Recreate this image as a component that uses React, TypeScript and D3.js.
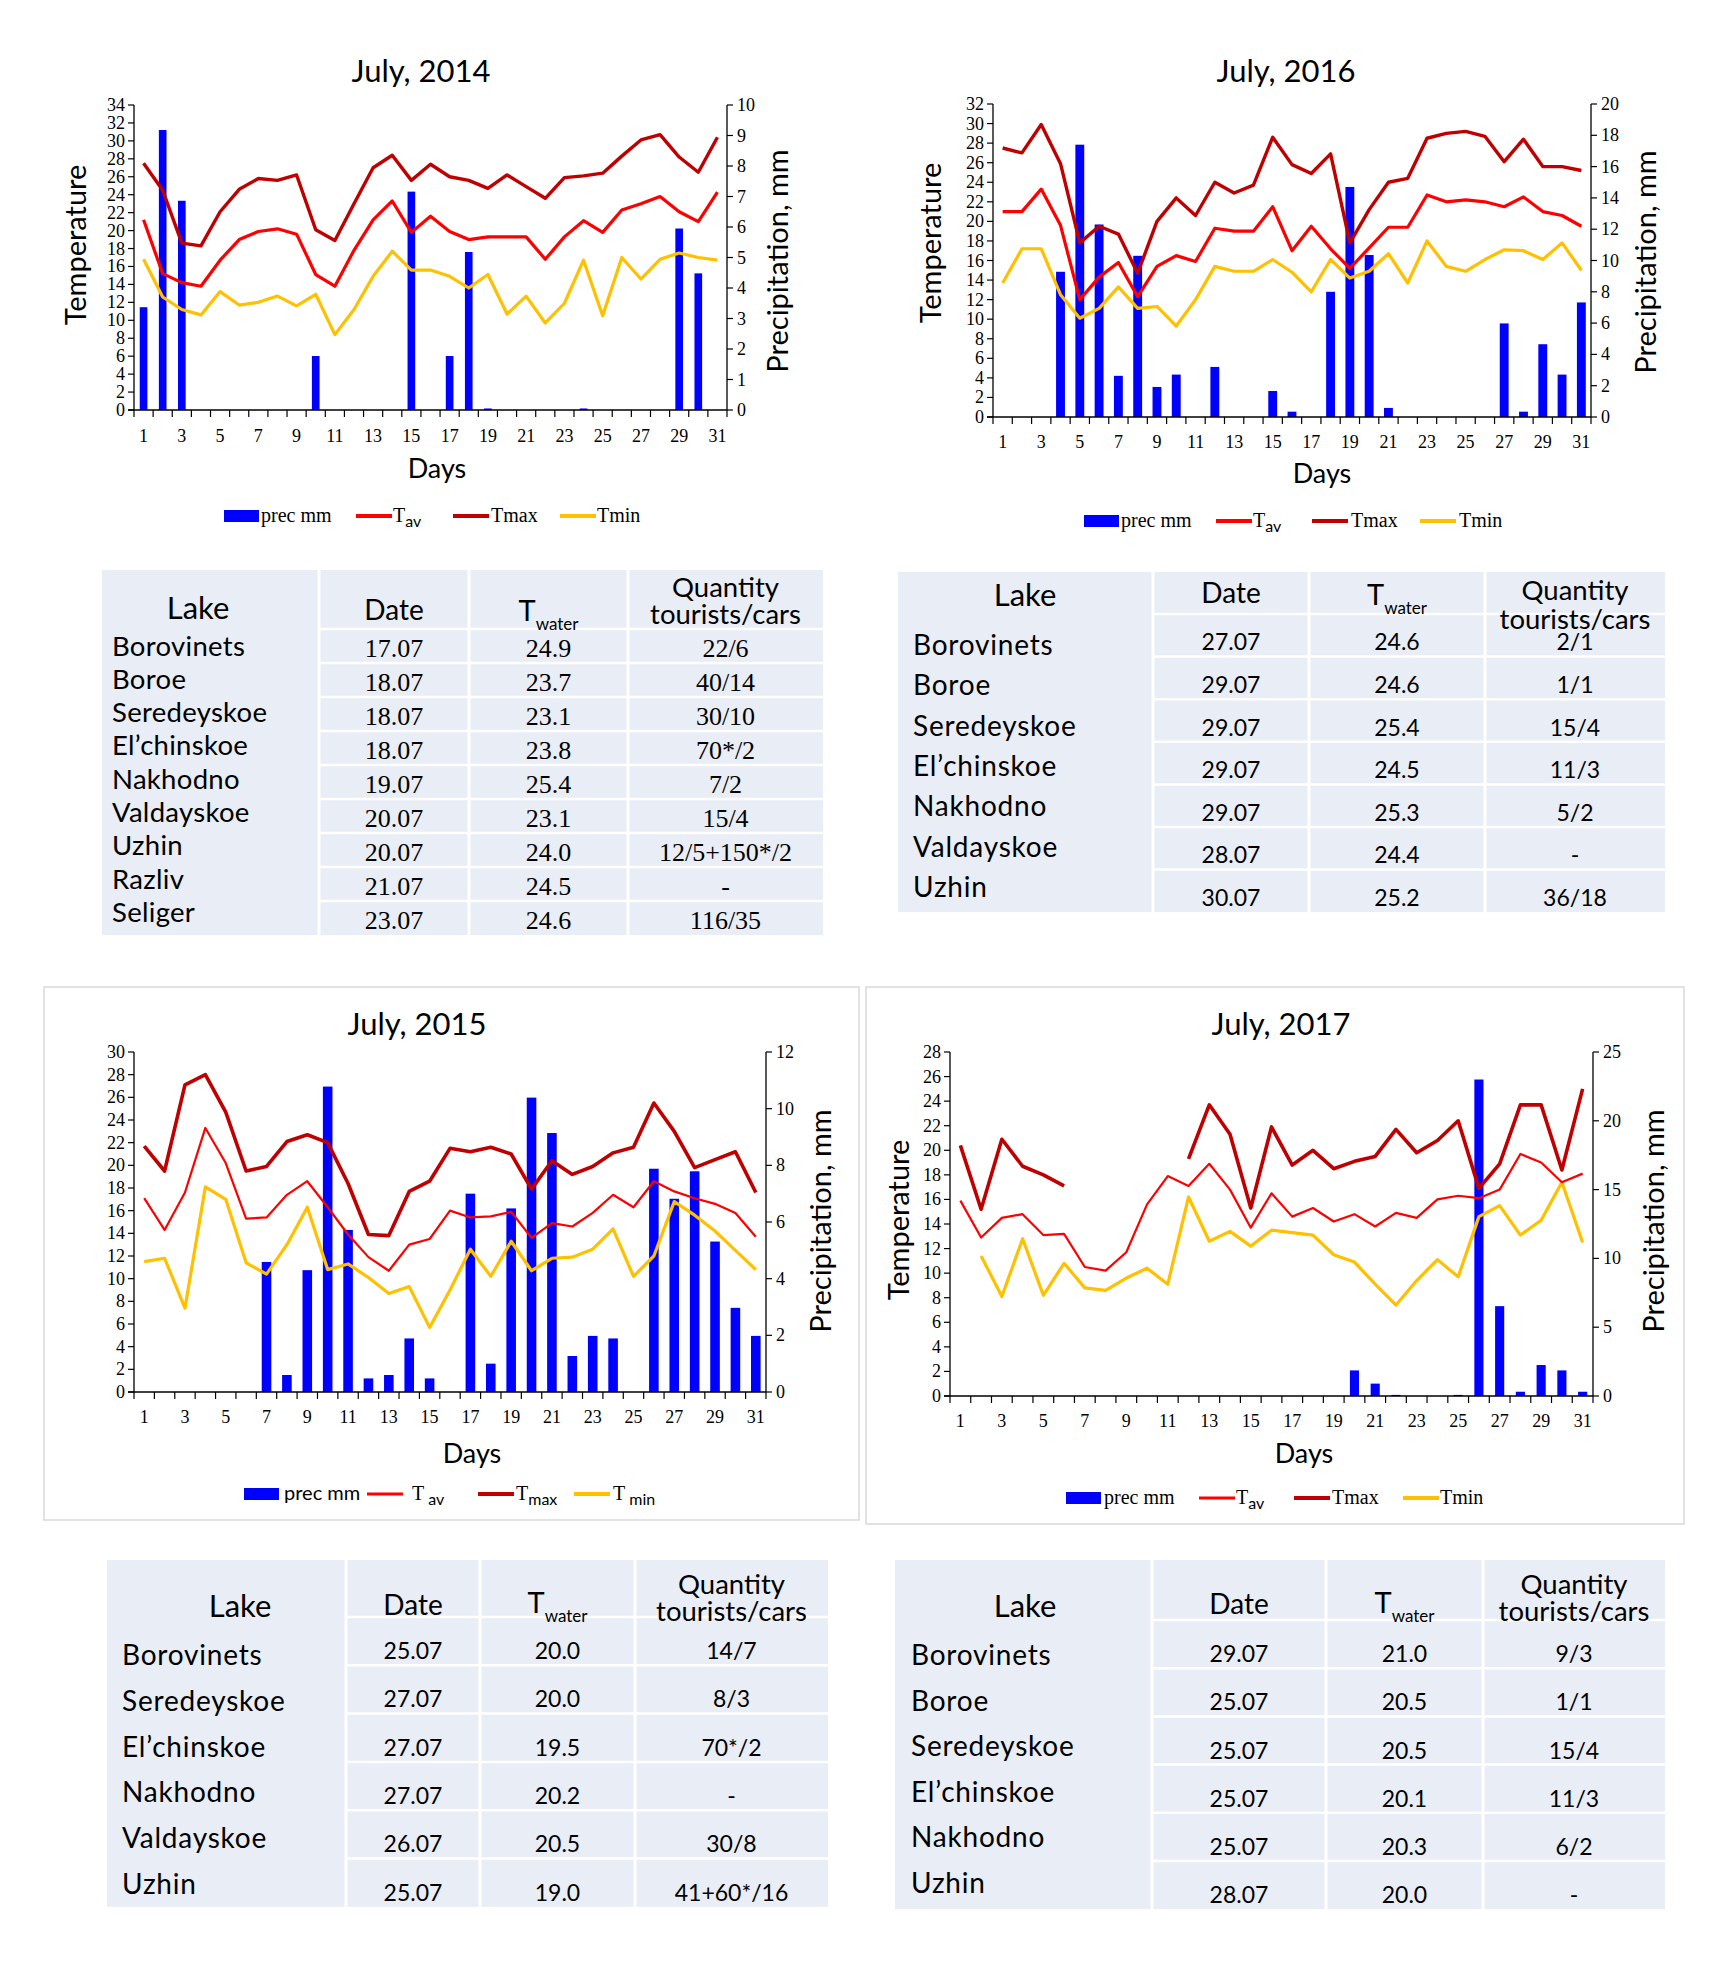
import React from 'react';
import * as d3 from 'd3';

// ---------- data ----------
const days = ['1', '2', '3', '4', '5', '6', '7', '8', '9', '10', '11', '12', '13', '14', '15', '16',
  '17', '18', '19', '20', '21', '22', '23', '24', '25', '26', '27', '28', '29', '30', '31'];

const tmax2014 = [27.5, 24.5, 18.6, 18.3, 22.1, 24.6, 25.8, 25.6, 26.2, 20.1, 18.9, 23.0, 27.0, 28.4, 25.6, 27.4,
  26.0, 25.6, 24.7, 26.2, 24.9, 23.6, 25.9, 26.1, 26.4, 28.3, 30.1, 30.7, 28.2, 26.5, 30.4];
const tav2014 = [21.2, 15.2, 14.2, 13.8, 16.7, 19.0, 19.9, 20.2, 19.6, 15.1, 13.8, 17.8, 21.2, 23.3, 19.8, 21.6,
  19.9, 19.0, 19.3, 19.3, 19.3, 16.8, 19.3, 21.1, 19.8, 22.3, 23.0, 23.8, 22.1, 21.0, 24.3];
const tmin2014 = [16.8, 12.6, 11.2, 10.6, 13.2, 11.7, 12.0, 12.7, 11.6, 12.9, 8.4, 11.2, 14.9, 17.7, 15.6, 15.6,
  14.9, 13.6, 15.1, 10.7, 12.7, 9.7, 11.9, 16.7, 10.5, 17.0, 14.6, 16.8, 17.5, 17.0, 16.7];
const prec2014 = [3.37, 9.18, 6.86, 0, 0, 0, 0, 0, 0, 1.77, 0, 0, 0, 0, 7.16, 0,
  1.77, 5.18, 0.05, 0, 0, 0, 0, 0.05, 0, 0, 0, 0, 5.95, 4.48, 0];

const tmax2016 = [27.5, 27.0, 29.9, 25.9, 17.8, 19.5, 18.7, 14.7, 20.0, 22.4, 20.6, 24.0, 22.9, 23.7, 28.6, 25.8,
  24.9, 26.9, 17.8, 21.2, 24.0, 24.4, 28.5, 29.0, 29.2, 28.7, 26.1, 28.4, 25.6, 25.6, 25.2];
const tav2016 = [21.0, 21.0, 23.3, 19.6, 12.0, 14.3, 15.8, 12.3, 15.4, 16.5, 15.9, 19.3, 19.0, 19.0, 21.5, 17.0,
  19.5, 17.2, 15.2, 17.3, 19.4, 19.4, 22.7, 22.0, 22.2, 22.0, 21.5, 22.5, 21.0, 20.6, 19.5];
const tmin2016 = [13.7, 17.2, 17.2, 12.5, 10.1, 11.1, 13.3, 11.1, 11.3, 9.3, 12.0, 15.4, 14.9, 14.9, 16.1, 14.8,
  12.8, 16.1, 14.2, 14.9, 16.7, 13.7, 18.0, 15.4, 14.9, 16.1, 17.1, 17.0, 16.1, 17.8, 15.0];
const prec2016 = [0, 0, 0, 9.28, 17.4, 12.3, 2.63, 10.3, 1.92, 2.71, 0, 3.2, 0, 0, 1.66, 0.34,
  0, 8.0, 14.7, 10.35, 0.58, 0, 0, 0, 0, 0, 5.98, 0.34, 4.65, 2.71, 7.32];

const tmax2015 = [21.7, 19.5, 27.1, 28.0, 24.7, 19.5, 19.9, 22.1, 22.7, 22.0, 18.4, 13.9, 13.8, 17.7, 18.6, 21.5,
  21.2, 21.6, 21.0, 17.9, 20.4, 19.2, 19.9, 21.1, 21.6, 25.5, 23.0, 19.8, 20.5, 21.2, 17.6];
const tav2015 = [17.1, 14.3, 17.6, 23.3, 20.2, 15.3, 15.4, 17.4, 18.6, 16.3, 13.9, 11.9, 10.7, 13.0, 13.5, 16.0,
  15.4, 15.5, 15.9, 13.6, 14.9, 14.6, 15.8, 17.4, 16.3, 18.6, 17.7, 17.1, 16.6, 15.8, 13.7];
const tmin2015 = [11.5, 11.8, 7.4, 18.1, 17.0, 11.4, 10.4, 13.0, 16.3, 10.8, 11.3, 10.1, 8.7, 9.3, 5.7, 9.0,
  12.6, 10.2, 13.3, 10.7, 11.8, 11.9, 12.6, 14.4, 10.2, 12.0, 16.8, 15.6, 14.2, 12.5, 10.8];
const prec2015 = [0, 0, 0, 0, 0, 0, 4.59, 0.6, 4.3, 10.78, 5.72, 0.48, 0.6, 1.89, 0.48, 0,
  7.0, 1.0, 6.48, 10.39, 9.14, 1.27, 1.98, 1.89, 0, 7.88, 6.82, 7.79, 5.31, 2.97, 1.98];

const tmax2017 = [20.4, 15.2, 20.9, 18.7, 18.0, 17.1, null, null, null, null, null, 19.3, 23.7, 21.3, 15.3, 21.9,
  18.8, 20.0, 18.5, 19.1, 19.5, 21.7, 19.8, 20.8, 22.4, 16.9, 18.9, 23.7, 23.7, 18.4, 25.0];
const tav2017 = [15.9, 12.9, 14.5, 14.8, 13.1, 13.2, 10.5, 10.2, 11.7, 15.6, 17.9, 17.1, 18.9, 16.8, 13.7, 16.5,
  14.6, 15.3, 14.2, 14.8, 13.8, 14.9, 14.5, 16.0, 16.3, 16.1, 16.8, 19.7, 19.0, 17.4, 18.1];
const tmin2017 = [null, 11.4, 8.1, 12.8, 8.2, 10.8, 8.8, 8.6, 9.6, 10.4, 9.1, 16.2, 12.6, 13.4, 12.2, 13.5,
  13.3, 13.1, 11.5, 10.9, 9.1, 7.4, 9.4, 11.1, 9.7, 14.6, 15.5, 13.1, 14.3, 17.4, 12.5];
const prec2017 = [0, 0, 0, 0, 0, 0, 0, 0, 0, 0, 0, 0, 0, 0, 0, 0,
  0, 0, 0, 1.86, 0.9, 0.08, 0, 0, 0.08, 23.0, 6.53, 0.31, 2.25, 1.86, 0.31];

const lakes2014 = ['Borovinets', 'Boroe', 'Seredeyskoe', 'El\u2019chinskoe', 'Nakhodno', 'Valdayskoe', 'Uzhin', 'Razliv', 'Seliger'];
const dates2014 = ['17.07', '18.07', '18.07', '18.07', '19.07', '20.07', '20.07', '21.07', '23.07'];
const twater2014 = ['24.9', '23.7', '23.1', '23.8', '25.4', '23.1', '24.0', '24.5', '24.6'];
const qty2014 = ['22/6', '40/14', '30/10', '70*/2', '7/2', '15/4', '12/5+150*/2', '-', '116/35'];

const lakes2016 = ['Borovinets', 'Boroe', 'Seredeyskoe', 'El\u2019chinskoe', 'Nakhodno', 'Valdayskoe', 'Uzhin'];
const dates2016 = ['27.07', '29.07', '29.07', '29.07', '29.07', '28.07', '30.07'];
const twater2016 = ['24.6', '24.6', '25.4', '24.5', '25.3', '24.4', '25.2'];
const qty2016 = ['2/1', '1/1', '15/4', '11/3', '5/2', '-', '36/18'];

const lakes2015 = ['Borovinets', 'Seredeyskoe', 'El\u2019chinskoe', 'Nakhodno', 'Valdayskoe', 'Uzhin'];
const dates2015 = ['25.07', '27.07', '27.07', '27.07', '26.07', '25.07'];
const twater2015 = ['20.0', '20.0', '19.5', '20.2', '20.5', '19.0'];
const qty2015 = ['14/7', '8/3', '70*/2', '-', '30/8', '41+60*/16'];

const lakes2017 = ['Borovinets', 'Boroe', 'Seredeyskoe', 'El\u2019chinskoe', 'Nakhodno', 'Uzhin'];
const dates2017 = ['29.07', '25.07', '25.07', '25.07', '25.07', '28.07'];
const twater2017 = ['21.0', '20.5', '20.5', '20.1', '20.3', '20.0'];
const qty2017 = ['9/3', '1/1', '15/4', '11/3', '6/2', '-'];

// ---------- styles ----------
const SERIF = '"Liberation Serif", "Times New Roman", serif';
const SANS = 'Lato, "Open Sans", sans-serif';
const C_PREC = '#0000ff';
const C_TAV = '#ff0000';
const C_TMAX = '#c00000';
const C_TMIN = '#ffc000';
const TABLE_BG = '#e9edf5';

type Series = (number | null)[];
type LegendLabel = { main: string; sub?: string; font: string; subFont?: string };

interface ChartSpec {
  title: string;
  box?: [number, number, number, number];
  left: number; right: number; top: number; bottom: number;
  tMax: number; tStep: number; pMax: number; pStep: number;
  tmax: Series; tav: Series; tmin: Series; prec: number[];
  barFrac: number;
  widths: [number, number, number]; // tav, tmax, tmin
  titleX: number; titleY: number;
  tickY: number; daysX: number; daysY: number;
  tempLabel?: [number, number]; precLabel: [number, number];
  legendY: number; legendX: number[]; legendTextX: number[];
  legend: LegendLabel[];
}

const legendA: LegendLabel[] = [
  { main: 'prec mm', font: SERIF },
  { main: 'T', sub: 'av', font: SERIF, subFont: SANS },
  { main: 'Tmax', font: SERIF },
  { main: 'Tmin', font: SERIF },
];
const legendB: LegendLabel[] = [
  { main: 'prec mm', font: SANS },
  { main: 'T', sub: ' av', font: SERIF, subFont: SANS },
  { main: 'T', sub: 'max', font: SERIF, subFont: SANS },
  { main: 'T', sub: ' min', font: SERIF, subFont: SANS },
];
const legendC: LegendLabel[] = [
  { main: 'prec mm', font: SERIF },
  { main: 'T', sub: 'av', font: SERIF, subFont: SANS },
  { main: 'Tmax', font: SERIF },
  { main: 'Tmin', font: SERIF },
];

const charts: ChartSpec[] = [
  {
    title: 'July, 2014', left: 134, right: 727, top: 105, bottom: 410,
    tMax: 34, tStep: 2, pMax: 10, pStep: 1,
    tmax: tmax2014, tav: tav2014, tmin: tmin2014, prec: prec2014, barFrac: 0.4,
    widths: [3.2, 3.4, 3.2],
    titleX: 421, titleY: 70, tickY: 436, daysX: 437, daysY: 467,
    tempLabel: [74, 245], precLabel: [776, 261],
    legendY: 516, legendX: [224, 356, 453, 560], legendTextX: [261, 393, 491, 597], legend: legendA,
  },
  {
    title: 'July, 2016', left: 993, right: 1591, top: 104, bottom: 417,
    tMax: 32, tStep: 2, pMax: 20, pStep: 2,
    tmax: tmax2016, tav: tav2016, tmin: tmin2016, prec: prec2016, barFrac: 0.46,
    widths: [3.2, 3.4, 3.2],
    titleX: 1286, titleY: 70, tickY: 442, daysX: 1322, daysY: 472,
    tempLabel: [929, 243], precLabel: [1644, 262],
    legendY: 521, legendX: [1084, 1216, 1312, 1420], legendTextX: [1121, 1253, 1351, 1459], legend: legendA,
  },
  {
    title: 'July, 2015', box: [44, 987, 859, 1520], left: 134, right: 766, top: 1052, bottom: 1392,
    tMax: 30, tStep: 2, pMax: 12, pStep: 2,
    tmax: tmax2015, tav: tav2015, tmin: tmin2015, prec: prec2015, barFrac: 0.47,
    widths: [2.2, 3.6, 3.2],
    titleX: 417, titleY: 1023, tickY: 1417, daysX: 472, daysY: 1452,
    precLabel: [819, 1221],
    legendY: 1494, legendX: [244, 367, 478, 574], legendTextX: [284, 412, 516, 613], legend: legendB,
  },
  {
    title: 'July, 2017', box: [866, 987, 1684, 1524], left: 950, right: 1593, top: 1052, bottom: 1396,
    tMax: 28, tStep: 2, pMax: 25, pStep: 5,
    tmax: tmax2017, tav: tav2017, tmin: tmin2017, prec: prec2017, barFrac: 0.44,
    widths: [2.2, 3.6, 3.2],
    titleX: 1281, titleY: 1023, tickY: 1421, daysX: 1304, daysY: 1452,
    tempLabel: [897, 1220], precLabel: [1652, 1221],
    legendY: 1498, legendX: [1066, 1199, 1294, 1403], legendTextX: [1104, 1236, 1332, 1440], legend: legendC,
  },
];

const Chart: React.FC<{ spec: ChartSpec }> = ({ spec }) => {
  const x = d3.scaleBand<string>().domain(days).range([spec.left, spec.right]);
  const yT = d3.scaleLinear().domain([0, spec.tMax]).range([spec.bottom, spec.top]);
  const yP = d3.scaleLinear().domain([0, spec.pMax]).range([spec.bottom, spec.top]);
  const cx = (i: number) => (x(days[i]) ?? 0) + x.bandwidth() / 2;

  const line = d3.line<number | null>()
    .defined(d => d != null)
    .x((_, i) => cx(i))
    .y(d => yT(d as number));

  const tTicks = d3.range(0, spec.tMax + 0.001, spec.tStep);
  const pTicks = d3.range(0, spec.pMax + 0.001, spec.pStep);
  const bw = x.bandwidth() * spec.barFrac;
  const boundaries = d3.range(0, days.length + 1).map(i => spec.left + i * x.step());

  const swatch = [
    { kind: 'bar', color: C_PREC, w: 0 },
    { kind: 'line', color: C_TAV, w: spec.widths[0] + 0.6 },
    { kind: 'line', color: C_TMAX, w: spec.widths[1] + 0.6 },
    { kind: 'line', color: C_TMIN, w: spec.widths[2] + 0.6 },
  ];

  return (
    <g>
      {spec.box && (
        <rect x={spec.box[0]} y={spec.box[1]} width={spec.box[2] - spec.box[0]} height={spec.box[3] - spec.box[1]}
          fill="none" stroke="#d9d9d9" strokeWidth={1.5} />
      )}
      <text x={spec.titleX} y={spec.titleY} textAnchor="middle" dominantBaseline="central"
        fontFamily={SANS} fontSize={31}>{spec.title}</text>

      {/* bars */}
      {spec.prec.map((v, i) => v > 0 ? (
        <rect key={i} x={cx(i) - bw / 2} y={yP(v)} width={bw} height={Math.max(1.2, spec.bottom - yP(v))} fill={C_PREC} />
      ) : null)}

      {/* lines */}
      <path d={line(spec.tmin) ?? ''} fill="none" stroke={C_TMIN} strokeWidth={spec.widths[2]} strokeLinejoin="round" />
      <path d={line(spec.tav) ?? ''} fill="none" stroke={C_TAV} strokeWidth={spec.widths[0]} strokeLinejoin="round" />
      <path d={line(spec.tmax) ?? ''} fill="none" stroke={C_TMAX} strokeWidth={spec.widths[1]} strokeLinejoin="round" />

      {/* x axis */}
      <line x1={spec.left - 6} x2={spec.right} y1={spec.bottom} y2={spec.bottom} stroke="#000" strokeWidth={1.3} />
      {boundaries.map((bx, i) => (
        <line key={i} x1={bx} x2={bx} y1={spec.bottom} y2={spec.bottom + 7} stroke="#000" strokeWidth={1.2} />
      ))}
      {days.map((d, i) => i % 2 === 0 ? (
        <text key={d} x={cx(i)} y={spec.tickY} textAnchor="middle" dominantBaseline="central"
          fontFamily={SERIF} fontSize={18}>{d}</text>
      ) : null)}
      <text x={spec.daysX} y={spec.daysY} textAnchor="middle" dominantBaseline="central"
        fontFamily={SANS} fontSize={27}>Days</text>

      {/* left axis */}
      <line x1={spec.left} x2={spec.left} y1={spec.top} y2={spec.bottom} stroke="#000" strokeWidth={1.3} />
      {tTicks.map(t => (
        <g key={t}>
          <line x1={spec.left - 6} x2={spec.left} y1={yT(t)} y2={yT(t)} stroke="#000" strokeWidth={1.2} />
          <text x={spec.left - 9} y={yT(t)} textAnchor="end" dominantBaseline="central"
            fontFamily={SERIF} fontSize={18}>{t}</text>
        </g>
      ))}

      {/* right axis */}
      <line x1={spec.right} x2={spec.right} y1={spec.top} y2={spec.bottom} stroke="#000" strokeWidth={1.3} />
      {pTicks.map(p => (
        <g key={p}>
          <line x1={spec.right} x2={spec.right + 6} y1={yP(p)} y2={yP(p)} stroke="#000" strokeWidth={1.2} />
          <text x={spec.right + 10} y={yP(p)} textAnchor="start" dominantBaseline="central"
            fontFamily={SERIF} fontSize={18}>{p}</text>
        </g>
      ))}

      {spec.tempLabel && (
        <text transform={`translate(${spec.tempLabel[0]},${spec.tempLabel[1]}) rotate(-90)`} textAnchor="middle"
          dominantBaseline="central" fontFamily={SANS} fontSize={29}>Temperature</text>
      )}
      <text transform={`translate(${spec.precLabel[0]},${spec.precLabel[1]}) rotate(-90)`} textAnchor="middle"
        dominantBaseline="central" fontFamily={SANS} fontSize={29}>Precipitation, mm</text>

      {/* legend */}
      {spec.legend.map((lab, i) => {
        const sx = spec.legendX[i];
        const s = swatch[i];
        return (
          <g key={i}>
            {s.kind === 'bar'
              ? <rect x={sx} y={spec.legendY - 6} width={35} height={12} fill={s.color} />
              : <line x1={sx} x2={sx + 36} y1={spec.legendY} y2={spec.legendY} stroke={s.color} strokeWidth={s.w} />}
            <text x={spec.legendTextX[i]} y={spec.legendY + 6} fontFamily={lab.font} fontSize={20}>
              {lab.main}
              {lab.sub && <tspan fontFamily={lab.subFont} fontSize={16} dy={5}>{lab.sub}</tspan>}
            </text>
          </g>
        );
      })}
    </g>
  );
};

// ---------- tables ----------
interface TableSpec {
  cols: number[];
  top: number; headBottom: number; rowH: number;
  lakes: string[]; dates: string[]; twater: string[]; qty: string[];
  numFont: string; numSize: number; numDy: number;
  nameX: number; nameY0: number; namePitch: number; nameSize: number; nameSpacing: number;
  lakeHeadX: number; lakeHeadY: number; dateHeadY: number; tHeadY: number;
  qtyY1: number; qtyY2: number;
}

const tables: TableSpec[] = [
  {
    cols: [102, 319, 469, 628, 823], top: 570, headBottom: 629, rowH: 34,
    lakes: lakes2014, dates: dates2014, twater: twater2014, qty: qty2014,
    numFont: SERIF, numSize: 26, numDy: 2,
    nameX: 112, nameY0: 645, namePitch: 33.3, nameSize: 27.5, nameSpacing: 0.3,
    lakeHeadX: 198, lakeHeadY: 607, dateHeadY: 609, tHeadY: 609, qtyY1: 586, qtyY2: 613,
  },
  {
    cols: [898, 1153, 1309, 1485, 1665], top: 572, headBottom: 614, rowH: 42.6,
    lakes: lakes2016, dates: dates2016, twater: twater2016, qty: qty2016,
    numFont: SANS, numSize: 23, numDy: 6,
    nameX: 913, nameY0: 644, namePitch: 40.3, nameSize: 28, nameSpacing: 0.8,
    lakeHeadX: 1025, lakeHeadY: 594, dateHeadY: 592, tHeadY: 593, qtyY1: 589, qtyY2: 618,
  },
  {
    cols: [107, 346, 480, 635, 828], top: 1560, headBottom: 1617, rowH: 48.3,
    lakes: lakes2015, dates: dates2015, twater: twater2015, qty: qty2015,
    numFont: SANS, numSize: 23, numDy: 9,
    nameX: 122, nameY0: 1654, namePitch: 45.8, nameSize: 28, nameSpacing: 0.8,
    lakeHeadX: 240, lakeHeadY: 1605, dateHeadY: 1604, tHeadY: 1601, qtyY1: 1583, qtyY2: 1610,
  },
  {
    cols: [895, 1152, 1326, 1483, 1665], top: 1560, headBottom: 1620, rowH: 48.2,
    lakes: lakes2017, dates: dates2017, twater: twater2017, qty: qty2017,
    numFont: SANS, numSize: 23, numDy: 9,
    nameX: 911, nameY0: 1654, namePitch: 45.6, nameSize: 28, nameSpacing: 0.8,
    lakeHeadX: 1025, lakeHeadY: 1605, dateHeadY: 1603, tHeadY: 1601, qtyY1: 1583, qtyY2: 1610,
  },
];

const LakeTable: React.FC<{ spec: TableSpec }> = ({ spec }) => {
  const c = spec.cols;
  const n = spec.lakes.length;
  const bottom = spec.headBottom + n * spec.rowH;
  const mid = (a: number, b: number) => (a + b) / 2;
  const rowY = (i: number) => spec.headBottom + (i + 0.5) * spec.rowH + spec.numDy;
  return (
    <g>
      <rect x={c[0]} y={spec.top} width={c[4] - c[0]} height={bottom - spec.top} fill={TABLE_BG} />
      {[c[1], c[2], c[3]].map(cx => (
        <line key={cx} x1={cx} x2={cx} y1={spec.top} y2={bottom} stroke="#fff" strokeWidth={3} />
      ))}
      {d3.range(0, n).map(i => (
        <line key={i} x1={c[1]} x2={c[4]} y1={spec.headBottom + i * spec.rowH} y2={spec.headBottom + i * spec.rowH}
          stroke="#fff" strokeWidth={2.5} />
      ))}

      {/* header */}
      <text x={spec.lakeHeadX} y={spec.lakeHeadY} textAnchor="middle" dominantBaseline="central"
        fontFamily={SANS} fontSize={31}>Lake</text>
      <text x={mid(c[1], c[2])} y={spec.dateHeadY} textAnchor="middle" dominantBaseline="central"
        fontFamily={SANS} fontSize={28}>Date</text>
      <text x={mid(c[2], c[3])} y={spec.tHeadY} textAnchor="middle" dominantBaseline="central"
        fontFamily={SANS} fontSize={29}>
        T<tspan fontSize={17} dy={14}>water</tspan>
      </text>
      <text x={mid(c[3], c[4])} y={spec.qtyY1} textAnchor="middle" dominantBaseline="central"
        fontFamily={SANS} fontSize={27.5}>Quantity</text>
      <text x={mid(c[3], c[4])} y={spec.qtyY2} textAnchor="middle" dominantBaseline="central"
        fontFamily={SANS} fontSize={27.5}>tourists/cars</text>

      {spec.lakes.map((l, i) => (
        <g key={l + i}>
          <text x={spec.nameX} y={spec.nameY0 + i * spec.namePitch} dominantBaseline="central"
            fontFamily={SANS} fontSize={spec.nameSize} letterSpacing={spec.nameSpacing}>{l}</text>
          <text x={mid(c[1], c[2])} y={rowY(i)} textAnchor="middle" dominantBaseline="central"
            fontFamily={spec.numFont} fontSize={spec.numSize}>{spec.dates[i]}</text>
          <text x={mid(c[2], c[3])} y={rowY(i)} textAnchor="middle" dominantBaseline="central"
            fontFamily={spec.numFont} fontSize={spec.numSize}>{spec.twater[i]}</text>
          <text x={mid(c[3], c[4])} y={rowY(i)} textAnchor="middle" dominantBaseline="central"
            fontFamily={spec.numFont} fontSize={spec.numSize}>{spec.qty[i]}</text>
        </g>
      ))}
    </g>
  );
};

export default function App() {
  return (
    <div>
      <style>{'body{margin:0;background:#fff}'}</style>
      <svg width={1720} height={1971} viewBox="0 0 1720 1971" style={{ display: 'block' }}>
        <rect width={1720} height={1971} fill="#fff" />
        {charts.map(c => <Chart key={c.title} spec={c} />)}
        {tables.map((t, i) => <LakeTable key={i} spec={t} />)}
      </svg>
    </div>
  );
}
